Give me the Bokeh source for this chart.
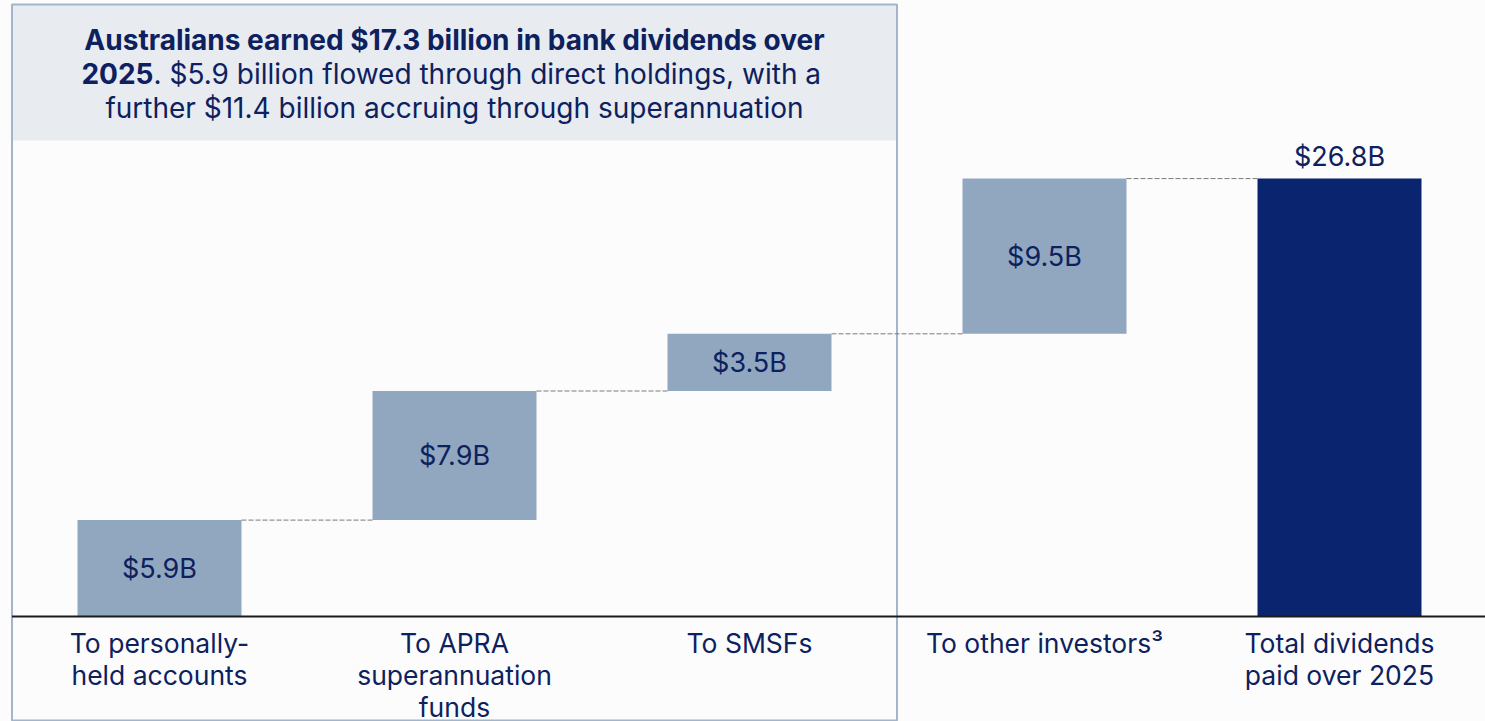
from bokeh.plotting import figure
from bokeh.models import Range1d, ColumnDataSource
from bokeh.core.properties import value
from bokeh.embed import file_html
from bokeh.resources import INLINE

# ---------------- data ----------------
categories = ["To personally-\nheld accounts", "To APRA\nsuperannuation\nfunds",
              "To SMSFs", "To other investors\u00b3", "Total dividends\npaid over 2025"]
values = [5.9, 7.9, 3.5, 9.5, 26.8]
is_total = [False, False, False, False, True]
value_labels = ["$5.9B", "$7.9B", "$3.5B", "$9.5B", "$26.8B"]
boxed_count = 3  # categories inside the "Australians" box

header_bold_1 = "Australians earned $17.3 billion in bank dividends over"
header_bold_2 = "2025"
header_rest_2 = ". $5.9 billion flowed through direct holdings, with a"
header_line_3 = "further $11.4 billion accruing through superannuation"

# ---------------- style ----------------
FONT = value("Inter")
NAVY = "#0c215e"
BAR = "#91a7bf"
TOTAL = "#0b2470"
BG = "#fcfcfc"
HEAD = "#e8ebf0"
BORDER = "#a3b5ca"

W, H = 1485, 721
PX_X = 295.0           # pixels per category
K = 16.34              # pixels per billion
BASE_PX = 616          # baseline pixel from top
FIRST_PX = 159         # first category centre in pixels

x0 = -FIRST_PX / PX_X
x1 = x0 + W / PX_X
y1 = BASE_PX / K
y0 = y1 - H / K

def py(px):
    return y1 - px / K

p = figure(width=W, height=H, output_backend="svg", toolbar_location=None,
           x_range=Range1d(x0, x1), y_range=Range1d(y0, y1),
           x_axis_location=None, y_axis_location=None, min_border=0)
p.grid.visible = False
p.outline_line_color = None
p.background_fill_color = BG
p.border_fill_color = BG

# header fill + box
bl, br = -0.5, boxed_count - 0.5
p.quad(left=[bl], right=[br], top=[py(4)], bottom=[py(140)], fill_color=HEAD, line_color=None)
p.quad(left=[bl], right=[br], top=[py(4)], bottom=[py(720)], fill_color=None,
       line_color=BORDER, line_width=2)

# waterfall
bw = 164 / PX_X
xs = list(range(len(values)))
bottoms, tops = [], []
run = 0.0
for v, t in zip(values, is_total):
    if t:
        bottoms.append(0.0); tops.append(v)
    else:
        bottoms.append(run); run += v; tops.append(run)
colors = [TOTAL if t else BAR for t in is_total]
src = ColumnDataSource(dict(x=xs, bottom=bottoms, top=tops, color=colors,
                            mid=[(b + t) / 2 for b, t in zip(bottoms, tops)],
                            lab=value_labels))
p.vbar(x="x", width=bw, bottom="bottom", top="top", fill_color="color", line_color=None, source=src)

# connectors
cx0 = [i + bw / 2 for i in xs[:-1]]
cx1 = [i + 1 - bw / 2 for i in xs[:-1]]
cy = tops[:-1]
p.segment(x0=cx0, y0=cy, x1=cx1, y1=cy, line_color="#7a7a7a", line_width=1, line_dash="5 2")

# baseline
p.segment(x0=[bl], y0=[0], x1=[x1], y1=[0], line_color="#1a1a1a", line_width=2)

# value labels
inner = [i for i, t in enumerate(is_total) if not t]
p.text(x=[xs[i] for i in inner], y=[src.data["mid"][i] for i in inner],
       text=[value_labels[i] for i in inner], text_font=FONT, text_font_size="27px",
       text_color=NAVY, text_align="center", text_baseline="middle")
tot = [i for i, t in enumerate(is_total) if t]
p.text(x=[xs[i] for i in tot], y=[tops[i] for i in tot], y_offset=-6,
       text=[value_labels[i] for i in tot], text_font=FONT, text_font_size="27px",
       text_color=NAVY, text_align="center", text_baseline="bottom")

# category labels
p.text(x=xs, y=[0] * len(xs), y_offset=10, text=categories, text_font=FONT,
       text_font_size="26.5px", text_color=NAVY, text_align="center", text_baseline="top",
       text_line_height=1.0)

# header
HFS = "28px"
hc = (bl + br) / 2
p.text(x=[hc], y=[py(39)], text=[header_bold_1], text_font=FONT, text_font_size=HFS,
       text_font_style="bold", text_color=NAVY, text_align="center", text_baseline="middle")
xsplit = x0 + 153 / PX_X
p.text(x=[xsplit], y=[py(73)], text=[header_bold_2], text_font=FONT, text_font_size=HFS,
       text_font_style="bold", text_color=NAVY, text_align="right", text_baseline="middle")
p.text(x=[xsplit], y=[py(73)], text=[header_rest_2], text_font=FONT, text_font_size=HFS,
       text_color=NAVY, text_align="left", text_baseline="middle")
p.text(x=[hc], y=[py(107)], text=[header_line_3], text_font=FONT, text_font_size=HFS,
       text_color=NAVY, text_align="center", text_baseline="middle")

open("out.html", "w").write(file_html(p, INLINE))
